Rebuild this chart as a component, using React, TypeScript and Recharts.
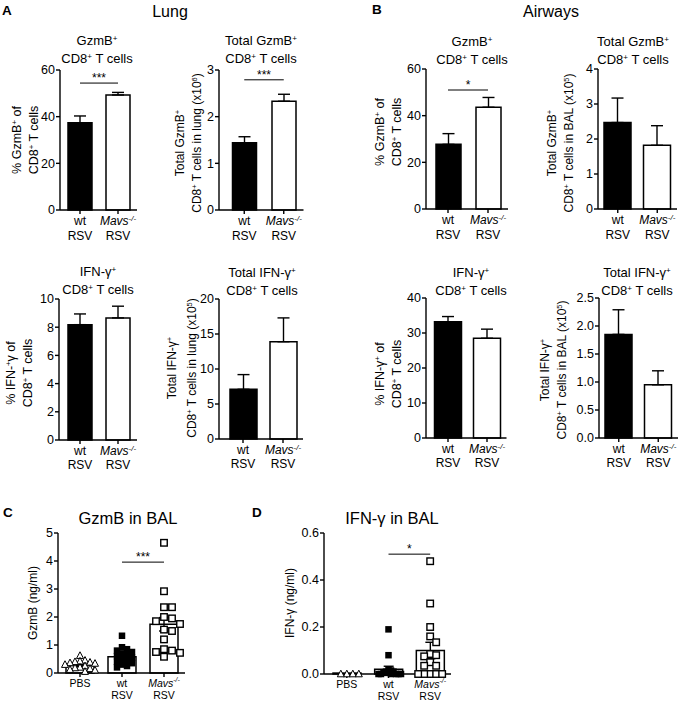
import React from 'react';
import {
  ComposedChart,
  Bar,
  Cell,
  ErrorBar,
  Scatter,
  XAxis,
  YAxis,
  ReferenceLine,
} from 'recharts';

const FONT = '"Liberation Sans", Arial, Helvetica, sans-serif';

// groups for the A / B panels
const rsvGroups = ['wt', 'Mavs'];
const rsvFills = ['#000', '#fff'];

// A - lung
const lungGzmbPct = [37.4, 49.3];
const lungGzmbPctSem = [2.9, 1.1];
const lungGzmbTotal = [1.44, 2.33];
const lungGzmbTotalSem = [0.13, 0.15];
const lungIfngPct = [8.18, 8.66];
const lungIfngPctSem = [0.76, 0.83];
const lungIfngTotal = [7.1, 13.9];
const lungIfngTotalSem = [2.1, 3.4];

// B - airways
const balGzmbPct = [27.7, 43.6];
const balGzmbPctSem = [4.6, 4.2];
const balGzmbTotal = [2.47, 1.82];
const balGzmbTotalSem = [0.7, 0.56];
const balIfngPct = [33.2, 28.5];
const balIfngPctSem = [1.5, 2.6];
const balIfngTotal = [1.85, 0.95];
const balIfngTotalSem = [0.44, 0.25];

// C / D - cytokines in BAL
const balGroups = ['PBS', 'wt', 'Mavs'];
const balFills = ['#fff', '#fff', '#fff'];
const gzmbMean = [0.27, 0.58, 1.74];
const gzmbSem = [0.04, 0.07, 0.24];
const gzmbPbs = [0.62, 0.45, 0.42, 0.4, 0.38, 0.36, 0.34, 0.3, 0.25, 0.2, 0.18, 0.15, 0.12, 0.1, 0.05];
const gzmbWt = [1.33, 0.92, 0.85, 0.8, 0.75, 0.7, 0.65, 0.6, 0.55, 0.5, 0.45, 0.4, 0.35, 0.3, 0.25, 0.2];
const gzmbMavs = [4.65, 2.92, 2.35, 2.35, 2.0, 1.95, 1.85, 1.75, 1.55, 1.5, 1.2, 0.85, 0.8, 0.75, 0.72, 0.58];
const ifngMean = [0.004, 0.02, 0.1];
const ifngSem = [0, 0.013, 0.035];
const ifngPbs = [0, 0, 0, 0];
const ifngWt = [0.19, 0.08, 0.02, 0.015, 0.01, 0.01, 0.005, 0.005, 0, 0, 0, 0, 0, 0];
const ifngMavs = [0.48, 0.3, 0.2, 0.16, 0.135, 0.085, 0.08, 0.075, 0.05, 0.035, 0.035, 0, 0, 0, 0, 0];

// significance brackets (y value of the line)
const sigLungGzmbPct = { y: 54.4, text: '***' };
const sigLungGzmbTotal = { y: 2.79, text: '***' };
const sigBalGzmbPct = { y: 51, text: '*' };
const sigGzmb = { y: 3.96, text: '***' };
const sigIfng = { y: 0.51, text: '*' };

// tick values
const ticksPct60 = [0, 20, 40, 60];
const ticks3 = [0, 1, 2, 3];
const ticks4 = [0, 1, 2, 3, 4];
const ticks10 = [0, 2, 4, 6, 8, 10];
const ticks20 = [0, 5, 10, 15, 20];
const ticks40 = [0, 10, 20, 30, 40];
const ticks25 = [0, 0.5, 1, 1.5, 2, 2.5];
const ticksGzmb = [0, 1, 2, 3, 4, 5];
const ticksIfng = [0, 0.2, 0.4, 0.6];

const tickFirstLine: Record<string, string> = { PBS: 'PBS', wt: 'wt', Mavs: 'Mavs' };
const tickSecondLine: Record<string, string> = { wt: 'RSV', Mavs: 'RSV' };

const AX = { stroke: '#000', strokeWidth: 1.4 };
const TICK_FS = 12.5;

// simple beeswarm: horizontal offsets (px) so markers don't sit on top of each other
function swarm(vals: number[], pxPerUnit: number, step: number, gap: number) {
  const placed: { x: number; y: number }[] = [];
  return vals.map(v => {
    const y = v * pxPerUnit;
    for (let k = 0; k < 60; k++) {
      const off = k === 0 ? 0 : (k % 2 ? 1 : -1) * Math.ceil(k / 2) * step;
      if (placed.every(p => Math.abs(p.x - off) >= gap || Math.abs(p.y - y) >= gap)) {
        placed.push({ x: off, y });
        return off;
      }
    }
    return 0;
  });
}

function pointsFor(g: string, vals: number[], kind: string, pxPerUnit: number, step: number, gap: number) {
  const offs = swarm(vals, pxPerUnit, step, gap);
  return vals.map((v, i) => ({ g, v, dx: offs[i], kind }));
}

const gzmbPoints = [
  ...pointsFor('PBS', gzmbPbs, 'tri', 28, 5, 5),
  ...pointsFor('wt', gzmbWt, 'fill', 28, 5, 5),
  ...pointsFor('Mavs', gzmbMavs, 'open', 28, 8, 7.5),
];
const ifngPoints = [
  ...pointsFor('PBS', ifngPbs, 'tri', 235, 6, 6),
  ...pointsFor('wt', ifngWt, 'fill', 235, 2.5, 2.5),
  ...pointsFor('Mavs', ifngMavs, 'open', 235, 6, 6),
];

function Marker(props: any) {
  const { cx, cy, payload } = props;
  if (cx == null || cy == null) return null;
  const x = cx + payload.dx;
  if (payload.kind === 'tri') {
    const s = 7;
    return (
      <polygon
        points={`${x},${cy - s * 0.55} ${x - s / 2},${cy + s * 0.4} ${x + s / 2},${cy + s * 0.4}`}
        fill="#fff"
        stroke="#000"
        strokeWidth={1}
      />
    );
  }
  const s = 6.5;
  if (payload.kind === 'fill') {
    return <rect x={x - s / 2} y={cy - s / 2} width={s} height={s} fill="#000" />;
  }
  return <rect x={x - s / 2} y={cy - s / 2} width={s} height={s} fill="#fff" stroke="#000" strokeWidth={1.4} />;
}

function GroupTick(props: any) {
  const { x, y, payload, gap, fs, first } = props;
  const name = payload.value;
  const second = tickSecondLine[name];
  return (
    <g>
      <text x={x} y={y + first} textAnchor="middle" fontSize={fs} fill="#000">
        {name === 'Mavs' ? (
          <>
            <tspan fontStyle="italic">{tickFirstLine[name]}</tspan>
            <tspan fontStyle="italic" fontSize={fs * 0.66} dy={-4.5}>-/-</tspan>
          </>
        ) : (
          tickFirstLine[name]
        )}
      </text>
      {second && (
        <text x={x} y={y + first + gap} textAnchor="middle" fontSize={fs} fill="#000">
          {second}
        </text>
      )}
    </g>
  );
}

type PanelProps = {
  plot: { x: number; y: number; w: number; h: number };
  pad: [number, number];
  barSize: number;
  cats: string[];
  fills: string[];
  means: number[];
  sems: number[];
  twoSided?: boolean;
  ticks: number[];
  decimals?: number;
  sig?: { y: number; text: string };
  lineGap: number;
  labelFs?: number;
  labelFirst?: number;
  capW: number;
  points?: any[];
};

function BarPanel(p: PanelProps) {
  const YW = 40;
  const MT = 12;
  const MR = 2;
  const XH = 44;
  const data = p.cats.map((g, i) => ({
    g,
    mean: p.means[i],
    err: p.twoSided ? p.sems[i] : [0, p.sems[i]],
  }));
  const dom = [p.ticks[0], p.ticks[p.ticks.length - 1]];
  const n = p.cats.length;
  return (
    <div style={{ position: 'absolute', left: p.plot.x - YW, top: p.plot.y - MT }}>
      <ComposedChart
        width={YW + p.plot.w + MR}
        height={MT + p.plot.h + XH}
        data={data}
        margin={{ top: MT, right: MR, left: 0, bottom: 0 }}
      >
        <XAxis
          dataKey="g"
          type="category"
          allowDuplicatedCategory={false}
          padding={{ left: p.pad[0], right: p.pad[1] }}
          height={XH}
          interval={0}
          tickSize={4}
          axisLine={AX}
          tickLine={AX}
          tick={(t: any) => (
            <GroupTick {...t} gap={p.lineGap} fs={p.labelFs ?? 12} first={p.labelFirst ?? 9} />
          )}
        />
        <YAxis
          type="number"
          domain={dom}
          ticks={p.ticks}
          interval={0}
          width={YW}
          tickSize={4}
          tickMargin={1}
          axisLine={AX}
          tickLine={AX}
          tick={{ fontSize: TICK_FS, fill: '#000' }}
          tickFormatter={(v: number) => (p.decimals ? v.toFixed(p.decimals) : String(v))}
        />
        <Bar dataKey="mean" barSize={p.barSize} stroke="#000" strokeWidth={1.5} isAnimationActive={false}>
          {data.map((d, i) => (
            <Cell key={d.g} fill={p.fills[i]} />
          ))}
          <ErrorBar dataKey="err" direction="y" width={p.capW} stroke="#000" strokeWidth={1.4} />
        </Bar>
        {p.points && (
          <Scatter data={p.points} dataKey="v" shape={<Marker />} isAnimationActive={false} />
        )}
        {p.sig && (
          <ReferenceLine
            segment={[
              { x: p.cats[n - 2], y: p.sig.y },
              { x: p.cats[n - 1], y: p.sig.y },
            ]}
            stroke="#000"
            strokeWidth={1}
            ifOverflow="visible"
            label={{ value: p.sig.text, position: 'top', fontSize: 12, fill: '#000', offset: 1 }}
          />
        )}
      </ComposedChart>
    </div>
  );
}

const supStyle: React.CSSProperties = { fontSize: '0.62em', position: 'relative', top: '-0.5em' };
const Sup = ({ c }: { c: string }) => <span style={supStyle}>{c}</span>;

function Title({ x, y, size = 13, lh = 16, children }: any) {
  return (
    <div
      style={{
        position: 'absolute',
        left: x,
        top: y - lh / 2,
        transform: 'translateX(-50%)',
        textAlign: 'center',
        fontSize: size,
        lineHeight: `${lh}px`,
        whiteSpace: 'nowrap',
      }}
    >
      {children}
    </div>
  );
}

function YLabel({ x, y, size = 12.5, lh = 14.5, children }: any) {
  return (
    <div
      style={{
        position: 'absolute',
        left: x,
        top: y,
        transform: 'translate(-50%, -50%) rotate(-90deg)',
        textAlign: 'center',
        fontSize: size,
        lineHeight: `${lh}px`,
        whiteSpace: 'nowrap',
      }}
    >
      {children}
    </div>
  );
}

function Letter({ x, y, children }: any) {
  return (
    <div style={{ position: 'absolute', left: x, top: y - 8, fontSize: 13.5, fontWeight: 'bold', lineHeight: '16px' }}>
      {children}
    </div>
  );
}

const cd8 = (
  <>
    CD8<Sup c="+" /> T cells
  </>
);

export default function App() {
  return (
    <div
      style={{
        position: 'absolute',
        left: 0,
        top: 0,
        width: 678,
        height: 703,
        background: '#fff',
        overflow: 'hidden',
        fontFamily: FONT,
        color: '#000',
      }}
    >
      <Letter x={2} y={11}>A</Letter>
      <Letter x={372} y={10}>B</Letter>
      <Letter x={3} y={513}>C</Letter>
      <Letter x={252} y={513}>D</Letter>
      <Title x={170} y={12} size={16}>Lung</Title>
      <Title x={551} y={12} size={16}>Airways</Title>

      {/* A - lung, GzmB % */}
      <Title x={97} y={41}>GzmB<Sup c="+" /><br />{cd8}</Title>
      <YLabel x={26} y={140}>% GzmB<Sup c="+" /> of<br />{cd8}</YLabel>
      <BarPanel plot={{ x: 60, y: 70, w: 77, h: 140 }} pad={[1, 0]} barSize={24} cats={rsvGroups} fills={rsvFills}
        means={lungGzmbPct} sems={lungGzmbPctSem} ticks={ticksPct60} sig={sigLungGzmbPct} lineGap={15} capW={6} />

      {/* A - lung, GzmB total */}
      <Title x={261} y={41}>Total GzmB<Sup c="+" /><br />{cd8}</Title>
      <YLabel x={189} y={143} size={12}>Total GzmB<Sup c="+" /><br />CD8<Sup c="+" /> T cells in lung (x10<Sup c="6" />)</YLabel>
      <BarPanel plot={{ x: 219, y: 70, w: 84.5, h: 140 }} pad={[5.5, 0]} barSize={24} cats={rsvGroups} fills={rsvFills}
        means={lungGzmbTotal} sems={lungGzmbTotalSem} ticks={ticks3} sig={sigLungGzmbTotal} lineGap={15} capW={6} />

      {/* B - airways, GzmB % */}
      <Title x={472} y={42}>GzmB<Sup c="+" /><br />{cd8}</Title>
      <YLabel x={389} y={132}>% GzmB<Sup c="+" /> of<br />{cd8}</YLabel>
      <BarPanel plot={{ x: 426, y: 69, w: 82, h: 140 }} pad={[2, 0]} barSize={25} cats={rsvGroups} fills={rsvFills}
        means={balGzmbPct} sems={balGzmbPctSem} ticks={ticksPct60} sig={sigBalGzmbPct} lineGap={15} capW={6} />

      {/* B - airways, GzmB total */}
      <Title x={633} y={42}>Total GzmB<Sup c="+" /><br />{cd8}</Title>
      <YLabel x={561} y={143} size={12}>Total GzmB<Sup c="+" /><br />CD8<Sup c="+" /> T cells in BAL (x10<Sup c="5" />)</YLabel>
      <BarPanel plot={{ x: 598, y: 69, w: 79, h: 140 }} pad={[0, 0]} barSize={27} cats={rsvGroups} fills={rsvFills}
        means={balGzmbTotal} sems={balGzmbTotalSem} ticks={ticks4} lineGap={15} capW={6} />

      {/* A - lung, IFN-g % */}
      <Title x={98} y={272}>IFN-γ<Sup c="+" /><br />{cd8}</Title>
      <YLabel x={20} y={373}>% IFN-<Sup c="+" />γ of<br />{cd8}</YLabel>
      <BarPanel plot={{ x: 59, y: 299, w: 78, h: 141 }} pad={[2, 0]} barSize={24} cats={rsvGroups} fills={rsvFills}
        means={lungIfngPct} sems={lungIfngPctSem} ticks={ticks10} lineGap={13.5} capW={6} />

      {/* A - lung, IFN-g total */}
      <Title x={262} y={273}>Total IFN-γ<Sup c="+" /><br />{cd8}</Title>
      <YLabel x={183} y={368} size={12} lh={18}>Total IFN-γ<Sup c="+" /><br />CD8<Sup c="+" /> T cells in lung (x10<Sup c="5" />)</YLabel>
      <BarPanel plot={{ x: 219, y: 299, w: 84, h: 140 }} pad={[4, 0]} barSize={27} cats={rsvGroups} fills={rsvFills}
        means={lungIfngTotal} sems={lungIfngTotalSem} ticks={ticks20} lineGap={13.5} capW={6} />

      {/* B - airways, IFN-g % */}
      <Title x={471} y={273}>IFN-γ<Sup c="+" /><br />{cd8}</Title>
      <YLabel x={389} y={374}>% IFN-γ<Sup c="+" /> of<br />{cd8}</YLabel>
      <BarPanel plot={{ x: 426, y: 298, w: 80.5, h: 140 }} pad={[2.5, 0]} barSize={27} cats={rsvGroups} fills={rsvFills}
        means={balIfngPct} sems={balIfngPctSem} ticks={ticks40} lineGap={13.5} capW={6} />

      {/* B - airways, IFN-g total */}
      <Title x={637} y={273}>Total IFN-γ<Sup c="+" /><br />{cd8}</Title>
      <YLabel x={554} y={370} size={12}>Total IFN-γ<Sup c="+" /><br />CD8<Sup c="+" /> T cells in BAL (x10<Sup c="5" />)</YLabel>
      <BarPanel plot={{ x: 599, y: 298, w: 79, h: 140 }} pad={[0, 0]} barSize={27} cats={rsvGroups} fills={rsvFills}
        means={balIfngTotal} sems={balIfngTotalSem} ticks={ticks25} decimals={1} lineGap={13.5} capW={6} />

      {/* C - GzmB in BAL */}
      <Title x={128} y={518} size={16.5}>GzmB in BAL</Title>
      <YLabel x={33} y={603} size={12}>GzmB (ng/ml)</YLabel>
      <BarPanel plot={{ x: 58, y: 533, w: 127, h: 140 }} pad={[1, 0]} barSize={28} cats={balGroups} fills={balFills}
        means={gzmbMean} sems={gzmbSem} twoSided ticks={ticksGzmb} sig={sigGzmb} lineGap={12.3} labelFs={10.5}
        labelFirst={7.5} capW={5} points={gzmbPoints} />

      {/* D - IFN-g in BAL */}
      <Title x={392} y={518} size={16.5}>IFN-γ in BAL</Title>
      <YLabel x={290} y={603} size={12}>IFN-γ (ng/ml)</YLabel>
      <BarPanel plot={{ x: 324, y: 533, w: 127, h: 141 }} pad={[2, 0]} barSize={28} cats={balGroups} fills={balFills}
        means={ifngMean} sems={ifngSem} twoSided ticks={ticksIfng} decimals={1} sig={sigIfng} lineGap={12.3} labelFs={10.5}
        labelFirst={7.5} capW={5} points={ifngPoints} />
    </div>
  );
}
